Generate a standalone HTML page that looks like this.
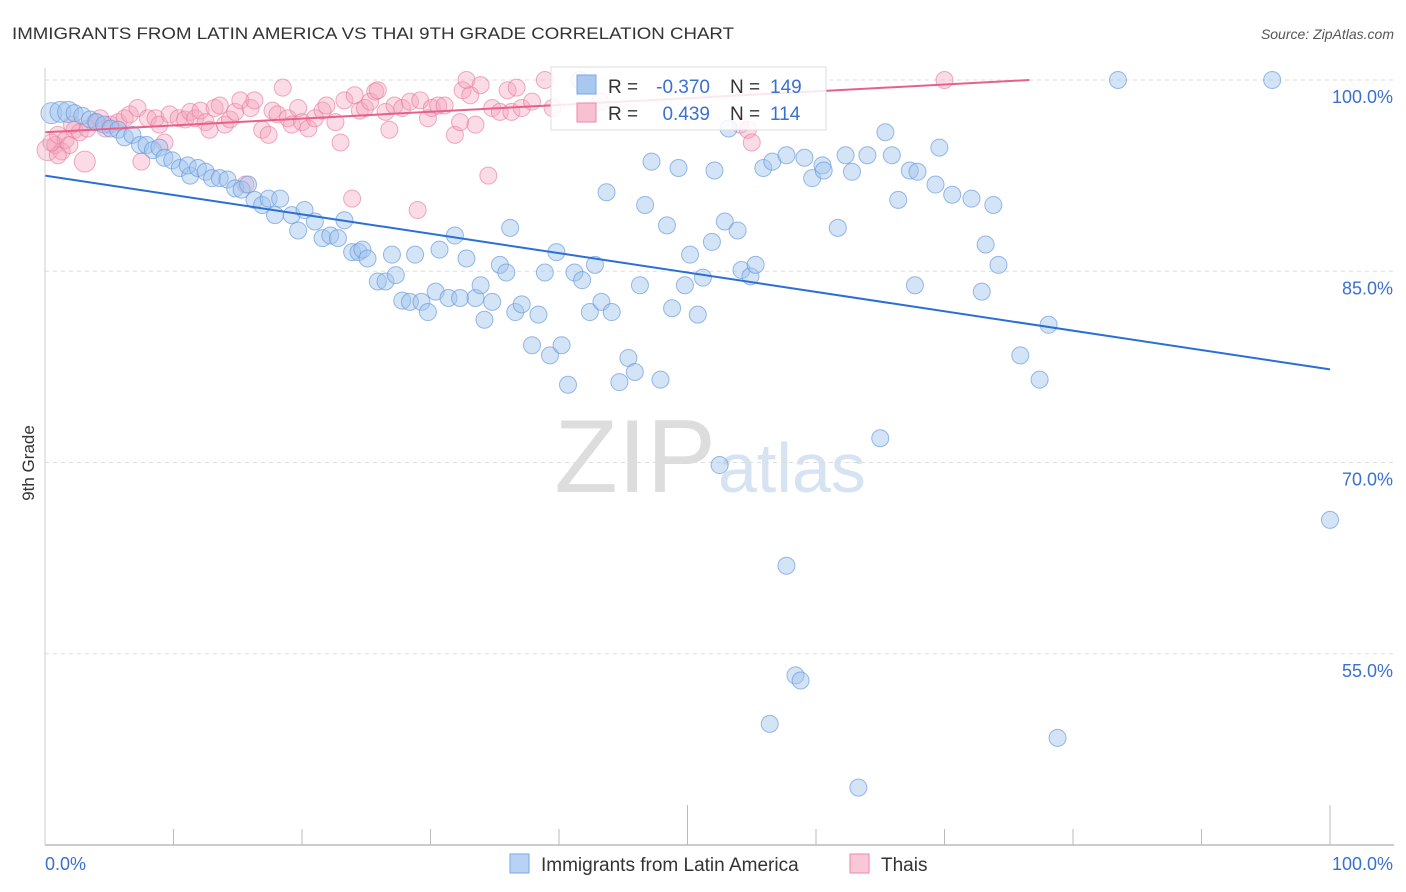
<!DOCTYPE html>
<html><head><meta charset="utf-8">
<style>
body{margin:0;background:#fff;font-family:"Liberation Sans",sans-serif;}
#wrap{position:relative;width:1406px;height:892px;overflow:hidden;}
svg text{font-family:"Liberation Sans",sans-serif;}
</style></head>
<body>
<div id="wrap">
<svg id="svg" width="1406" height="892">
<text x="12" y="39" font-size="17" fill="#333" textLength="722" lengthAdjust="spacingAndGlyphs">IMMIGRANTS FROM LATIN AMERICA VS THAI 9TH GRADE CORRELATION CHART</text>
<text x="1394" y="39" font-size="14" fill="#555" font-style="italic" text-anchor="end">Source: ZipAtlas.com</text>
<text x="34" y="463" font-size="17" fill="#333" transform="rotate(-90 34 463)" text-anchor="middle">9th Grade</text>
<text x="716" y="492" font-size="104" fill="#ddd" text-anchor="end" font-family="Liberation Serif">ZIP</text>
<text x="718" y="492" font-size="70" fill="#d6e3f3">atlas</text>
<g id="grid"></g><g id="pts"></g><g id="lines"></g><g id="axes"></g>
<g>
<rect x="551" y="67" width="275" height="63" fill="#fff" fill-opacity="0.85" stroke="#ddd"/>
<rect x="577" y="75" width="19" height="19" fill="#a9c8f0" stroke="#7aa8e0"/>
<text x="608" y="93" font-size="19" fill="#333">R =</text>
<text x="710" y="93" font-size="19" fill="#3a70d0" text-anchor="end">-0.370</text>
<text x="730" y="93" font-size="19" fill="#333">N =</text>
<text x="770" y="93" font-size="19" fill="#3a70d0">149</text>
<rect x="577" y="103" width="19" height="19" fill="#f8c0d0" stroke="#eb8aa8"/>
<text x="608" y="120" font-size="19" fill="#333">R =</text>
<text x="710" y="120" font-size="19" fill="#3a70d0" text-anchor="end">0.439</text>
<text x="730" y="120" font-size="19" fill="#333">N =</text>
<text x="770" y="120" font-size="19" fill="#3a70d0">114</text>
</g>
<g>
<rect x="510" y="854" width="19" height="19" fill="#b8d2f3" stroke="#7aa8e0"/>
<text x="541" y="871" font-size="19" fill="#333">Immigrants from Latin America</text>
<rect x="850" y="854" width="19" height="19" fill="#f9c8d6" stroke="#eb8aa8"/>
<text x="881" y="871" font-size="19" fill="#333">Thais</text>
</g>
</svg>
</div>
<script>
const yTicks=[100,85,70,55];
const xTickLabels=["0.0%","100.0%"];
const blueX=[0.5,1.2,1.8,2.3,2.9,3.5,4.0,4.6,5.1,5.7,6.2,6.8,7.4,7.9,8.4,8.9,9.3,9.9,10.5,11.3,11.1,11.9,12.5,13.0,13.6,14.2,14.8,15.3,15.8,16.3,16.9,17.4,17.9,18.3,19.2,19.7,20.2,21.0,21.6,22.2,22.8,23.3,23.9,24.4,24.7,25.1,25.9,26.5,27.0,27.3,27.8,28.4,28.8,29.3,29.8,30.4,30.7,31.4,31.9,32.3,32.8,33.5,33.9,34.2,34.8,35.4,35.9,36.2,36.6,37.1,37.9,38.4,38.9,39.3,39.8,40.2,40.7,41.2,41.8,42.4,42.8,43.3,43.7,44.1,44.7,45.4,45.9,46.3,46.7,47.2,47.9,48.4,48.8,49.3,49.8,50.2,50.8,51.2,51.9,52.1,52.5,52.9,53.2,53.9,54.2,54.9,55.3,55.9,56.6,57.7,57.7,58.4,58.8,59.1,59.7,60.5,60.6,61.7,62.3,62.8,63.3,64.0,65.0,65.4,65.9,66.4,67.3,67.7,67.9,69.3,69.6,70.6,72.1,72.9,73.2,73.8,74.2,75.9,77.4,78.1,78.8,83.5,95.5,100,56.4];
const blueY=[97.4,97.5,97.5,97.4,97.2,96.9,96.7,96.5,96.2,96.1,95.5,95.7,94.9,94.9,94.5,94.7,93.9,93.7,93.1,92.5,93.3,93.1,92.8,92.3,92.3,92.2,91.5,91.4,91.8,90.6,90.2,90.7,89.4,90.7,89.4,88.2,89.8,88.9,87.6,87.8,87.6,89.0,86.5,86.5,86.7,86.0,84.2,84.2,86.3,84.7,82.7,82.6,86.3,82.6,81.8,83.4,86.7,82.9,87.8,82.9,86.0,82.9,83.9,81.2,82.6,85.5,84.9,88.4,81.8,82.4,79.2,81.6,84.9,78.4,86.5,79.2,76.1,84.9,84.3,81.8,85.5,82.6,91.2,81.8,76.3,78.2,77.1,83.9,90.2,93.6,76.5,88.6,82.1,93.1,83.9,86.3,81.6,84.5,87.3,92.9,69.8,88.9,96.2,88.2,85.1,84.6,85.5,93.1,93.6,61.9,94.1,53.3,52.9,93.9,92.3,93.3,92.9,88.4,94.1,92.8,44.5,94.1,71.9,95.9,94.1,90.6,92.9,83.9,92.8,91.8,94.7,91.0,90.7,83.4,87.1,90.2,85.5,78.4,76.5,80.8,48.4,100,100,65.5,49.5];
const pinkX=[0.2,0.8,1.0,1.3,1.6,1.9,2.3,2.7,3.1,3.3,3.9,4.3,4.7,5.1,5.7,6.2,6.6,7.2,7.5,8.0,8.6,8.9,9.3,9.7,10.4,10.9,11.3,11.7,12.1,12.5,12.8,13.2,13.6,14.0,14.4,14.8,15.2,15.6,16.0,16.3,16.9,17.4,17.7,18.1,18.5,18.9,19.2,19.7,20.0,20.5,21.0,21.6,21.9,22.6,23.0,23.3,23.9,24.1,24.5,24.9,25.3,25.7,25.9,26.5,26.8,27.2,27.8,28.4,29.0,29.2,29.8,30.1,30.6,31.1,31.9,32.3,32.5,32.8,33.1,33.5,33.9,34.5,34.8,35.4,36.0,36.3,36.7,37.1,37.9,38.9,39.5,41.6,43.2,54.1,54.7,55.0,70.0,1.0,0.5,2.1];
const pinkY=[94.5,94.9,95.7,94.4,95.3,94.9,96.1,95.9,93.6,96.2,96.7,97.0,96.2,96.5,96.7,97.0,97.3,97.8,93.6,97.0,97.0,96.5,95.1,97.3,97.0,96.9,97.5,97.0,97.6,96.7,96.1,97.8,98.0,96.5,96.9,97.5,98.4,91.8,97.8,98.4,96.1,95.7,97.6,97.3,99.4,97.0,96.5,97.8,96.7,96.2,97.0,97.6,98.0,96.7,95.1,98.4,90.7,98.8,97.6,97.8,98.3,99.1,99.2,97.5,96.1,98.0,97.8,98.3,89.8,98.4,97.0,97.8,98.0,98.0,95.7,96.7,99.2,100,98.8,96.5,99.6,92.5,97.8,97.5,99.2,97.5,99.4,97.8,98.3,100,97.8,100,98.3,96.5,96.1,95.1,100,94.1,95.1,96.5];
const blueTrend=[92.5,77.3];
const pinkTrend=[95.9,100];
const pinkTrendEnd=76.6;

const X0=45,X1=1330,YTOP=80,PX_PER=12.75;
const xs=v=>X0+(X1-X0)*v/100;
const ys=v=>YTOP+(100-v)*PX_PER;
const NS="http://www.w3.org/2000/svg";
function mk(tag,attrs,parent){const e=document.createElementNS(NS,tag);for(const k in attrs)e.setAttribute(k,attrs[k]);document.getElementById(parent).appendChild(e);return e;}

yTicks.forEach(t=>{
  const g=mk('line',{x1:X0,x2:1394,y1:ys(t),y2:ys(t),stroke:'#ddd','stroke-dasharray':'4,4'},'grid');
  
  
  const l=mk('text',{x:1393,y:ys(t)+23,'font-size':18,fill:'#3a70d0','text-anchor':'end'},'axes');
  l.textContent=t.toFixed(1)+'%';
  
  
});
const ax=mk('line',{x1:X0,x2:1394,y1:845,y2:845,stroke:'#bbb','stroke-width':1.5},'axes');


const ay=mk('line',{x1:X0,x2:X0,y1:68,y2:845,stroke:'#ccc'},'axes');


for(let i=1;i<=10;i++){
  const v=i*10,tall=(i==5||i==10);
  const t=mk('line',{x1:xs(v),x2:xs(v),y1:tall?805:829,y2:845,stroke:'#bbb'},'axes');
  
  
}
const xl0=mk('text',{x:45,y:870,'font-size':18,fill:'#3a70d0'},'axes');xl0.textContent=xTickLabels[0];


const xl1=mk('text',{x:1393,y:870,'font-size':18,fill:'#3a70d0','text-anchor':'end'},'axes');xl1.textContent=xTickLabels[1];



pinkX.forEach((x,i)=>{
  const c=mk('circle',{cx:xs(x),cy:ys(pinkY[i]),r:(i==0||i==8)?10.5:8.5,fill:'rgba(245,165,190,0.4)',stroke:'rgba(230,120,155,0.6)'},'pts');
  
  
});
blueX.forEach((x,i)=>{
  const c=mk('circle',{cx:xs(x),cy:ys(blueY[i]),r:i<3?10.5:8.5,fill:'rgba(160,195,238,0.45)',stroke:'rgba(100,150,220,0.65)'},'pts');
  
  
});
const bl=mk('line',{x1:xs(0),y1:ys(blueTrend[0]),x2:xs(100),y2:ys(blueTrend[1]),stroke:'#2a6fd6','stroke-width':2},'lines');


const pl=mk('line',{x1:xs(0),y1:ys(pinkTrend[0]),x2:xs(pinkTrendEnd),y2:ys(pinkTrend[1]),stroke:'#e8608a','stroke-width':2},'lines');


</script>
</body></html>
